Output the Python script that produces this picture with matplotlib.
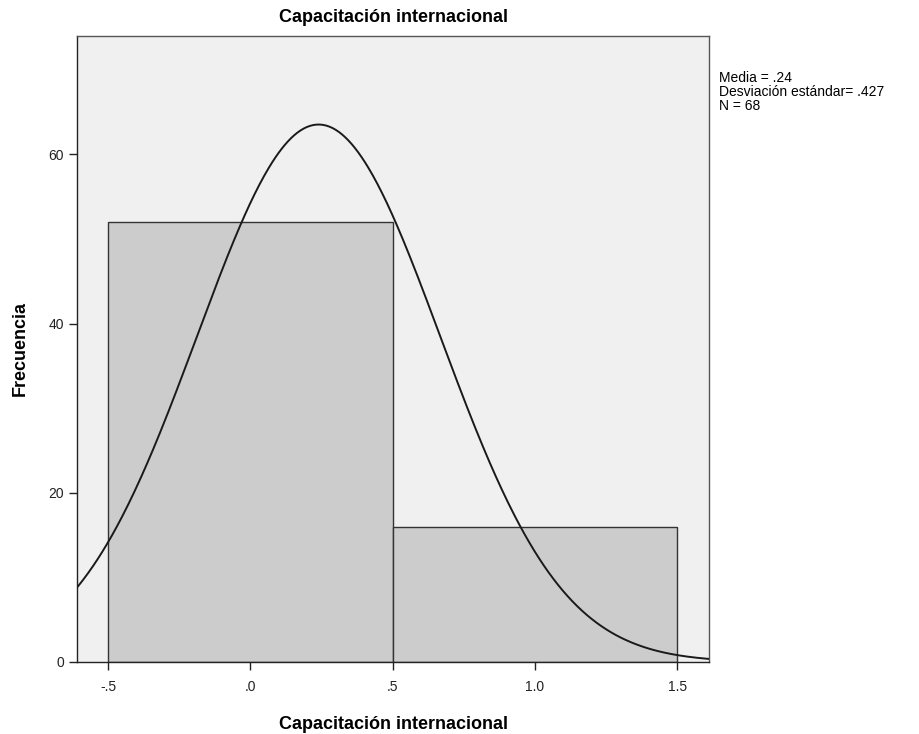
import matplotlib
matplotlib.use("Agg")
import matplotlib.pyplot as plt
import numpy as np

plt.rcParams['font.family'] = ['Liberation Sans', 'DejaVu Sans']

bin_edges = [-0.5, 0.5, 1.5]
counts = [52, 16]
media = 0.24
desv = 0.427
n = 68
xticks = [-0.5, 0.0, 0.5, 1.0, 1.5]
xticklabels = ["-.5", ".0", ".5", "1.0", "1.5"]
yticks = [0, 20, 40, 60]

fig = plt.figure(figsize=(9.2, 7.34), dpi=100)
ax = fig.add_axes([0.0837, 0.0981, 0.6870, 0.8529])
ax.set_facecolor("#f0f0f0")

widths = np.diff(bin_edges)
ax.bar(bin_edges[:-1], counts, width=widths, align="edge",
       color="#cccccc", edgecolor="#333333", linewidth=1.0, zorder=2)

# curva normal escalada al histograma
xs = np.linspace(-0.62, 1.62, 400)
bw = widths[0]
ys = n * bw / (desv * np.sqrt(2 * np.pi)) * np.exp(-0.5 * ((xs - media) / desv) ** 2)
ax.plot(xs, ys, color="#1a1a1a", linewidth=1.4, zorder=3)

ax.set_xlim(-0.609, 1.612)
ax.set_ylim(0, 74)
ax.set_xticks(xticks)
ax.set_xticklabels(xticklabels)
ax.set_yticks(yticks)
ax.tick_params(direction="out", length=6, width=1, colors="#222222", labelsize=10)
ax.tick_params(axis="x", pad=7)
for s in ax.spines.values():
    s.set_color("#555555")
    s.set_linewidth(1.0)
ax.spines["bottom"].set_color("#222222")
ax.spines["left"].set_color("#222222")

ax.set_title("Capacitación internacional", fontsize=13, fontweight="bold", pad=10)
ax.set_xlabel("Capacitación internacional", fontsize=13, fontweight="bold", labelpad=16)
ax.set_ylabel("Frecuencia", fontsize=13, fontweight="bold", labelpad=14)

fig.text(0.7815, 0.903, f"Media = .24\nDesviación estándar= .427\nN = {n}",
         fontsize=10, va="top", ha="left", linespacing=0.98)

fig.savefig("out.png", dpi=100)
